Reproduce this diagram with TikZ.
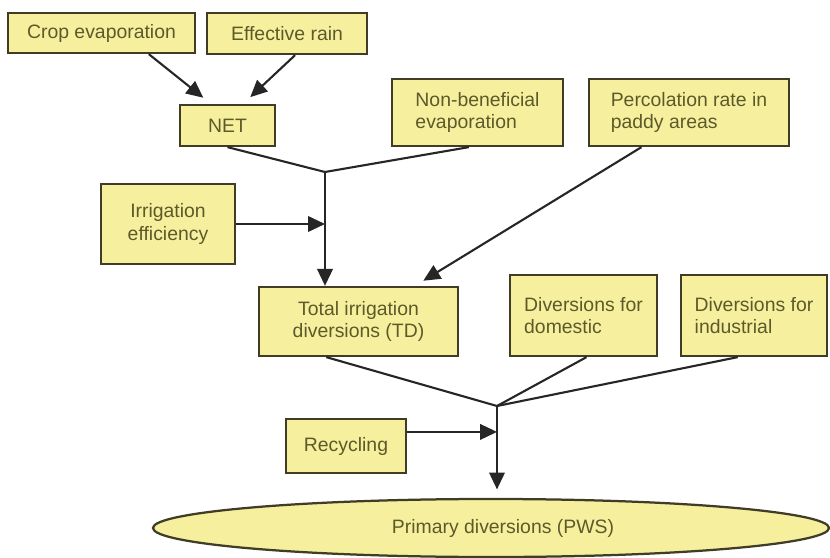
\documentclass[tikz,border=0pt]{standalone}
\usepackage{fontspec}
\setmainfont{Liberation Sans}
\usepackage{tikz}
\usetikzlibrary{shapes.geometric,arrows.meta,calc}

\definecolor{boxfill}{RGB}{246,240,158}
\definecolor{boxline}{RGB}{64,60,38}
\definecolor{boxtext}{RGB}{92,90,42}

\begin{document}
\begin{tikzpicture}[x=0.025cm, y=-0.025cm,
        box/.style = {rectangle,
            draw=boxline,
            line width=1.6pt,
            fill=boxfill,
            inner sep=0pt,
            text=boxtext,
            font=\fontsize{13.8}{16}\selectfont},
        oval/.style = {ellipse,
            draw=boxline,
            line width=1.6pt,
            fill=boxfill,
            inner sep=0pt,
            text=boxtext,
            font=\fontsize{13.8}{16}\selectfont},
        link/.style = {line width=1.5pt, draw=black!85},
        arr/.style = {link, -{Triangle[length=12pt,width=11pt]}}]

        \useasboundingbox (0,0) rectangle (830,558);

        % Top inputs
        \node[box, minimum width=4.675cm, minimum height=1.0cm] (crop) at (101.5,33) {Crop evaporation};
        \node[box, minimum width=4.0cm, minimum height=1.025cm] (rain) at (287,33.5) {Effective rain};
        \node[box, minimum width=2.375cm, minimum height=1.025cm] (net) at (227.5,125.5) {NET};
        \node[box, align=left, minimum width=4.275cm, minimum height=1.675cm] (nonben) at (477.5,112.5) {Non-beneficial\\evaporation};
        \node[box, align=left, minimum width=5.0cm, minimum height=1.675cm] (perc) at (689,112.5) {Percolation rate in\\paddy areas};
        \node[box, align=center, minimum width=3.35cm, minimum height=2.0cm] (effic) at (168,224) {Irrigation\\efficiency};

        % Diversions
        \node[box, align=center, minimum width=4.975cm, minimum height=1.725cm] (totdiv) at (358.5,321.5) {Total irrigation\\diversions (TD)};
        \node[box, align=left, minimum width=3.675cm, minimum height=2.025cm] (domdiv) at (583.5,315.5) {Diversions for\\domestic};
        \node[box, align=left, minimum width=3.65cm, minimum height=2.025cm] (inddiv) at (754,315.5) {Diversions for\\industrial};
        \node[box, minimum width=3.0cm, minimum height=1.35cm] (recyc) at (346,446) {Recycling};

        % Result
        \node[oval, minimum width=16.9cm, minimum height=1.45cm] (pws) at (491,528) {\hspace{0.6cm}Primary diversions (PWS)};

        % Junctions
        \coordinate (joinA) at (325,172);
        \coordinate (joinB) at (497,406);
        \coordinate (effin) at (joinA |- effic.east);
        \coordinate (recin) at ($(joinB |- recyc.north)!0.25!(joinB |- recyc.south)$);

        % Into NET
        \draw[arr, shorten >=7pt] ($(crop.south west)!0.75!(crop.south east)$) -- ($(net.north west)!0.33!(net.north east)$);
        \draw[arr, shorten >=7pt] ($(rain.south west)!0.55!(rain.south east)$) -- ($(net.north west)!0.66!(net.north east)$);

        % Irrigation branch
        \draw[link] (net.south) -- (joinA);
        \draw[link] ($(nonben.south west)!0.45!(nonben.south east)$) -- (joinA);
        \draw[arr] (effic.east) -- (effin);
        \draw[arr] (joinA) -- (joinA |- totdiv.north);
        \draw[arr, shorten >=7pt] ($(perc.south west)!0.265!(perc.south east)$) -- ($(totdiv.north west)!0.78!(totdiv.north east)$);

        % Primary branch
        \draw[link] ($(totdiv.south west)!0.34!(totdiv.south east)$) -- (joinB);
        \draw[link] ($(domdiv.south west)!0.52!(domdiv.south east)$) -- (joinB);
        \draw[link] ($(inddiv.south west)!0.39!(inddiv.south east)$) -- (joinB);
        \draw[arr] (recyc.east |- recin) -- (recin);
        \draw[arr, shorten >=6pt] (joinB) -- (joinB |- pws.north);
    \end{tikzpicture}
\end{document}
